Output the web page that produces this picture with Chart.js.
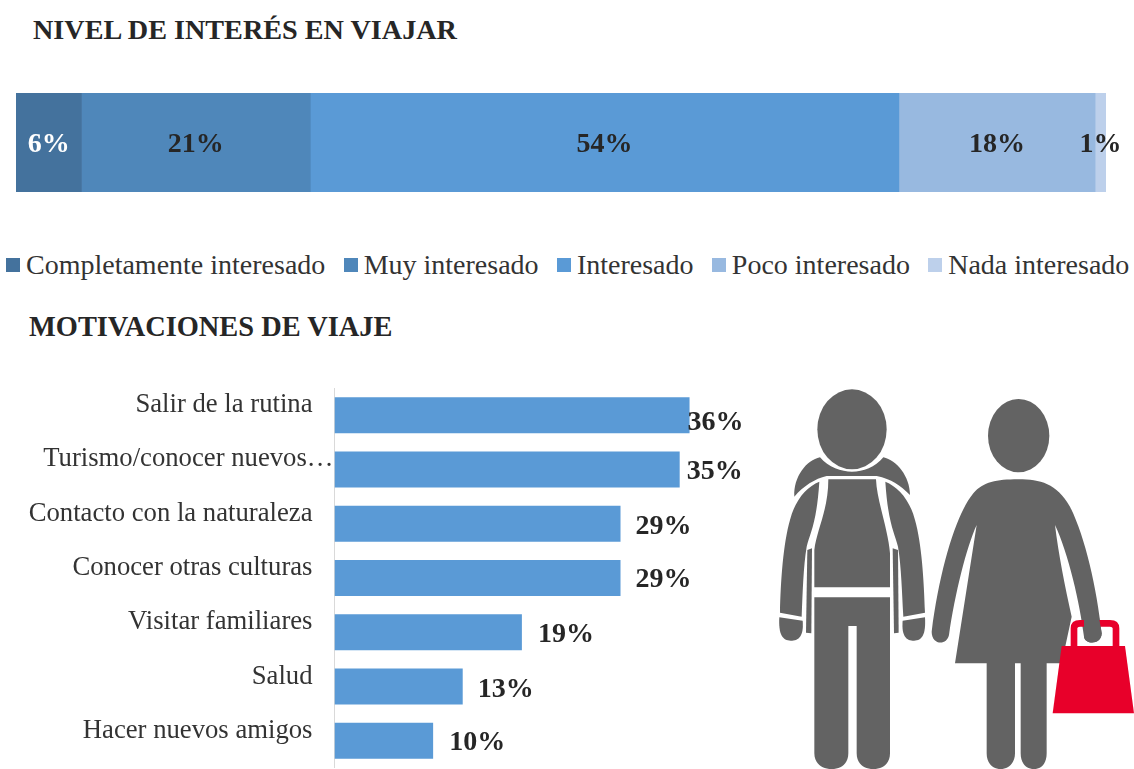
<!DOCTYPE html>
<html lang="es">
<head>
<meta charset="utf-8">
<title>Nivel de interés y motivaciones de viaje</title>
<script src="https://cdn.jsdelivr.net/npm/chart.js@4"></script>
<style>
html,body{margin:0;padding:0;background:#fff;width:1134px;height:769px;overflow:hidden}
body{position:relative;font-family:"Liberation Serif",serif;color:#262626}
.title{position:absolute;font-weight:bold;font-size:28.2px;line-height:32px;white-space:nowrap}
canvas{position:absolute}
#legend{position:absolute;left:6px;top:249px;display:flex;gap:18.3px;font-size:28px;line-height:32px;white-space:nowrap;color:#333}
#legend span.item{display:flex;align-items:center;gap:6px}
#legend i{display:block;width:14px;height:14px}
svg{position:absolute}
</style>
</head>
<body>
<div class="title" style="left:33px;top:14px">NIVEL DE INTERÉS EN VIAJAR</div>
<canvas id="interest" width="1134" height="125" style="left:0;top:80px"></canvas>
<div id="legend"></div>
<div class="title" style="left:29px;top:311px;font-size:28.4px">MOTIVACIONES DE VIAJE</div>
<canvas id="motives" width="760" height="380" style="left:0;top:388px"></canvas>

<svg viewBox="0 0 1122 1167" width="374" height="389" style="left:760px;top:380px" aria-hidden="true">
  <g fill="#636363">
    <ellipse cx="276" cy="148" rx="104" ry="120"/>
    <path d="M103 350C100 290 140 240 180 232C205 262 245 275 276 275C310 275 345 262 370 232C410 240 450 290 450 345C420 315 395 298 350 288L200 288C165 296 130 318 103 350Z"/>
    <path d="M178 305C140 320 105 360 90 420C70 490 62 600 60 698L125 710C128 640 130 560 140 500C150 460 170 430 178 305Z"/>
    <path d="M376 305C414 320 450 360 465 420C485 490 492 600 495 698L430 710C426 640 424 560 414 500C404 460 384 430 376 305Z"/>
    <path d="M205 298L348 298C350 360 385 450 390 520L390 622L163 622L163 510C170 450 205 390 205 298Z"/>
    <path d="M163 652L390 652L390 1120C390 1150 370 1167 340 1167C310 1167 290 1150 290 1120L290 738L265 738L265 1120C265 1150 245 1167 215 1167C185 1167 163 1150 163 1120Z"/>
    <path d="M58 712L128 722C132 770 115 782 92 782C68 782 55 765 58 712Z"/>
    <path d="M495 712L428 722C424 770 440 782 462 782C486 782 498 765 495 712Z"/>
    <path d="M142 510L156 505L154 760L138 758Z"/>
    <path d="M398 505L414 510L416 758L402 760Z"/>
    <ellipse cx="776" cy="167" rx="92" ry="110"/>
    <path d="M515 755C540 560 590 400 640 340C670 305 710 298 776 298C840 298 890 310 930 380C975 470 1010 620 1025 760C1025 795 975 795 972 770C960 670 925 520 885 435C895 520 915 620 935 710L905 850L860 850L860 1120C860 1150 845 1167 822 1167C798 1167 782 1150 782 1120L782 850L765 850L765 1120C765 1150 745 1167 722 1167C698 1167 680 1150 680 1120L680 850L585 850L650 435C620 500 585 640 567 765C560 798 515 795 515 755Z"/>
  </g>
  <path d="M942 798L942 745Q942 730 960 730L1050 730Q1068 730 1068 745L1068 798" fill="none" stroke="#e8002a" stroke-width="20"/>
  <path d="M905 798L1095 798L1122 1000L878 1000Z" fill="#e8002a"/>
  <path d="M972 700L972 770C975 795 1025 795 1025 760L1015 700Z" fill="#636363"/>
</svg>

<script>
const levels = ["Completamente interesado", "Muy interesado", "Interesado", "Poco interesado", "Nada interesado"];
const levelValues = [6, 21, 54, 18, 1];
const levelColors = ["#44729d", "#4f87ba", "#5a9ad6", "#98b9e0", "#bdd0eb"];
const levelLabelColors = ["#ffffff", "#262626", "#262626", "#262626", "#262626"];

const motives = ["Salir de la rutina", "Turismo/conocer nuevos…", "Contacto con la naturaleza", "Conocer otras culturas", "Visitar familiares", "Salud", "Hacer nuevos amigos"];
const motiveValues = [36, 35, 29, 29, 19, 13, 10];
const motiveColor = "#5a9ad6";
const motiveLabelGap = [-2, 7, 15, 15, 16, 15, 16];
const motiveLabelDrop = [8, 2, 3, 2, 2, 3, 2];

const serif = '"Liberation Serif", serif';
Chart.defaults.font.family = serif;

const legend = document.getElementById("legend");
levels.forEach((name, i) => {
  const item = document.createElement("span");
  item.className = "item";
  const box = document.createElement("i");
  box.style.background = levelColors[i];
  item.appendChild(box);
  item.appendChild(document.createTextNode(name));
  legend.appendChild(item);
});

const centerLabels = {
  id: "centerLabels",
  afterDatasetsDraw(chart) {
    const ctx = chart.ctx;
    ctx.save();
    ctx.font = "bold 28px " + serif;
    ctx.textAlign = "center";
    ctx.textBaseline = "middle";
    chart.data.datasets.forEach((ds, i) => {
      const bar = chart.getDatasetMeta(i).data[0];
      ctx.fillStyle = levelLabelColors[i];
      ctx.fillText(ds.data[0] + "%", (bar.x + bar.base) / 2, bar.y + 2);
    });
    ctx.restore();
  }
};

new Chart(document.getElementById("interest"), {
  type: "bar",
  data: {
    labels: ["Nivel de interés"],
    datasets: levels.map((name, i) => ({
      label: name,
      data: [levelValues[i]],
      backgroundColor: levelColors[i],
      borderWidth: 0,
      categoryPercentage: 1,
      barPercentage: 1
    }))
  },
  options: {
    indexAxis: "y",
    responsive: false,
    animation: false,
    layout: { padding: { left: 16, right: 28, top: 13, bottom: 13 } },
    plugins: { legend: { display: false }, tooltip: { enabled: false } },
    scales: {
      x: { stacked: true, min: 0, max: 100, display: false },
      y: { stacked: true, display: false }
    }
  },
  plugins: [centerLabels]
});

const endLabels = {
  id: "endLabels",
  afterLayout(chart) {
    const items = chart.scales.y.getLabelItems();
    items[1].options.translation[0] += 21;
  },
  afterDatasetsDraw(chart) {
    const ctx = chart.ctx;
    ctx.save();
    ctx.font = "bold 28px " + serif;
    ctx.fillStyle = "#262626";
    ctx.textAlign = "left";
    ctx.textBaseline = "middle";
    chart.getDatasetMeta(0).data.forEach((bar, i) => {
      ctx.fillText(motiveValues[i] + "%", bar.x + motiveLabelGap[i], bar.y + motiveLabelDrop[i]);
    });
    ctx.restore();
  }
};

new Chart(document.getElementById("motives"), {
  type: "bar",
  data: {
    labels: motives,
    datasets: [{
      label: "Motivaciones de viaje",
      data: motiveValues,
      backgroundColor: motiveColor,
      borderWidth: 0,
      categoryPercentage: 1,
      barPercentage: 0.663
    }]
  },
  options: {
    indexAxis: "y",
    responsive: false,
    animation: false,
    layout: { padding: { right: 31 } },
    plugins: { legend: { display: false }, tooltip: { enabled: false } },
    scales: {
      x: { min: 0, max: 40, display: false },
      y: {
        afterFit(scale) {
          scale.width = 334.5;
          scale.paddingTop = 0;
          scale.paddingBottom = 0;
        },
        grid: { display: false, drawTicks: false },
        border: { display: true, color: "#d9d9d9", width: 1 },
        ticks: {
          autoSkip: false,
          padding: 22,
          labelOffset: -10,
          color: "#333333",
          font: { size: 26.7, family: serif }
        }
      }
    }
  },
  plugins: [endLabels]
});
</script>
</body>
</html>
